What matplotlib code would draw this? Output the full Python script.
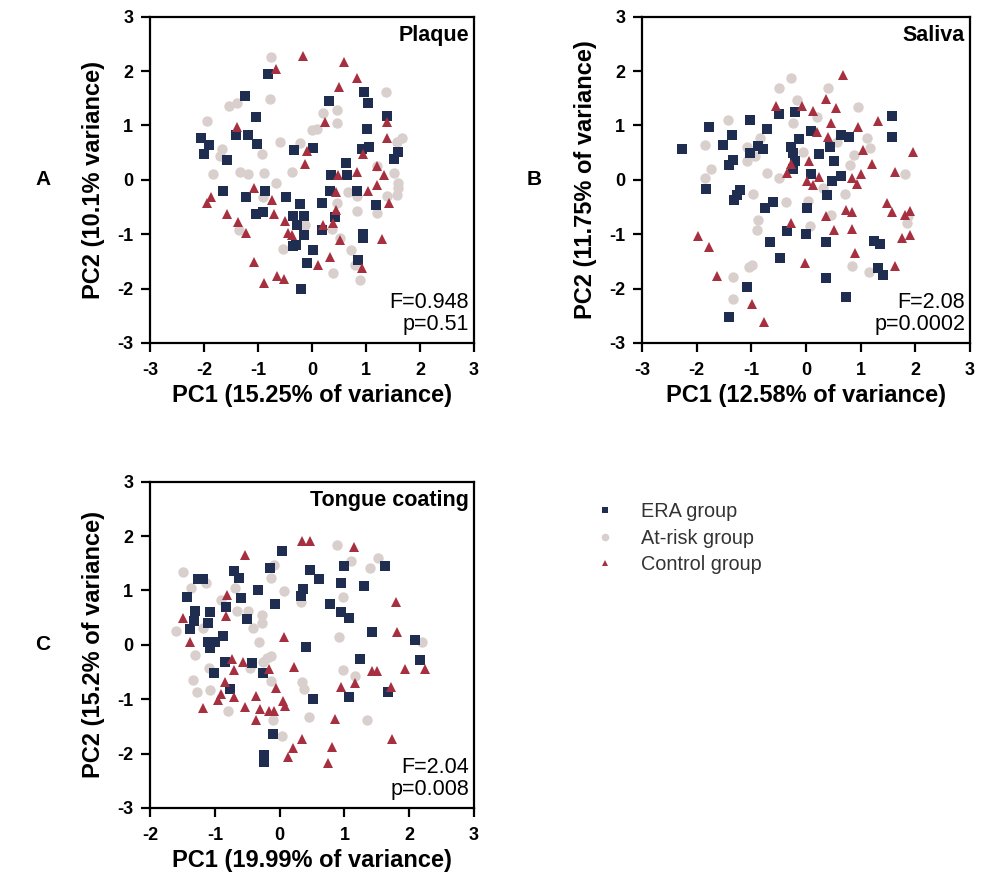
import matplotlib
matplotlib.use("Agg")
import matplotlib.pyplot as plt
from matplotlib.lines import Line2D

plt.rcParams['font.family'] = ['Liberation Sans', 'DejaVu Sans']
plt.rcParams['axes.unicode_minus'] = False

# ---- data (PC1, PC2) ----
plaque_era = [(-0.81, 1.95), (-1.24, 1.55), (0.96, 1.61), (1.03, 1.41), (0.32, 1.44), (-1.04, 1.15),
              (1.38, 1.18), (1.01, 0.94), (-2.06, 0.77), (-1.90, 0.64), (-2.01, 0.48), (-1.41, 0.82),
              (-1.18, 0.82), (-1.02, 0.66), (-1.57, 0.37), (-0.33, 0.55), (0.01, 0.58), (0.92, 0.57),
              (1.06, 0.60), (1.60, 0.52), (1.51, 0.38), (0.63, 0.31), (0.35, 0.08), (0.64, 0.09),
              (-1.64, -0.21), (-1.22, -0.31), (-0.88, -0.20), (-0.49, -0.31), (-0.22, -0.45), (0.18, -0.43),
              (0.33, -0.20), (0.83, -0.20), (1.19, -0.46), (-1.04, -0.63), (-0.90, -0.60), (-0.36, -0.66),
              (-0.15, -0.66), (0.43, -0.69), (-0.28, -0.83), (0.18, -0.93), (-0.15, -1.01), (0.94, -0.99),
              (0.95, -1.07), (-0.36, -1.22), (-0.30, -1.20), (0.02, -1.29), (-0.10, -1.53), (0.85, -1.47),
              (-0.20, -2.01)]
plaque_risk = [(-0.76, 2.26), (1.36, 1.61), (-0.77, 1.49), (-1.53, 1.35), (-1.39, 1.41), (-1.95, 1.09),
               (0.46, 1.29), (0.21, 1.23), (0.46, 1.04), (0.00, 0.92), (0.09, 0.93), (-0.59, 0.69),
               (-0.22, 0.68), (-1.67, 0.56), (-1.70, 0.43), (-0.93, 0.48), (1.66, 0.77), (1.57, 0.70),
               (1.20, 0.25), (1.51, 0.12), (-1.83, 0.11), (-1.33, 0.14), (-1.18, 0.11), (-0.89, 0.12),
               (-0.38, 0.14), (1.60, -0.05), (1.60, -0.15), (1.57, -0.28), (1.38, -0.29), (-0.67, -0.06),
               (0.67, -0.23), (0.84, -0.29), (0.46, -0.43), (0.84, -0.58), (1.21, -0.61), (-1.35, -0.92),
               (-0.13, -0.83), (0.36, -0.91), (0.52, -1.07), (-0.54, -1.28), (0.72, -1.29), (0.80, -1.57),
               (0.38, -1.71), (0.88, -1.84), (-0.90, -0.31)]
plaque_ctrl = [(-0.17, 2.27), (0.60, 2.17), (0.84, 1.88), (-0.67, 2.03), (0.49, 1.70), (-1.39, 0.98),
               (0.24, 1.07), (1.38, 1.07), (1.38, 0.76), (-0.10, 0.53), (0.94, 0.47), (-0.14, 0.29),
               (0.83, 0.15), (1.20, 0.25), (1.34, 0.08), (0.48, 0.09), (-1.07, -0.15), (-1.87, -0.31),
               (-1.95, -0.42), (-0.75, -0.38), (0.44, -0.22), (1.04, -0.20), (1.21, -0.09), (1.43, -0.42),
               (-1.58, -0.63), (-0.70, -0.63), (-1.38, -0.78), (-1.22, -0.97), (-0.50, -0.75), (0.44, -0.55),
               (0.38, -0.80), (0.20, -0.83), (-0.44, -0.97), (-0.38, -1.01), (1.29, -1.09), (0.52, -1.10),
               (0.33, -1.42), (0.11, -1.57), (-1.07, -1.52), (0.92, -1.63), (-0.89, -1.90), (-0.65, -1.77),
               (-0.52, -1.83)]

saliva_era = [(-2.27, 0.56), (-1.77, 0.97), (-1.51, 0.64), (-1.35, 0.82), (-1.02, 1.10), (-1.02, 0.50),
              (-0.87, 0.62), (-0.78, 0.56), (-0.71, 0.93), (-1.33, 0.37), (-1.41, 0.28), (-0.49, 1.21),
              (-0.20, 1.24), (-0.13, 0.75), (-0.27, 0.60), (-0.24, 0.49), (-0.20, 0.34), (-0.24, 0.20),
              (0.09, 0.90), (0.24, 0.47), (0.44, 0.60), (0.51, 0.34), (0.64, 0.83), (0.79, 0.78),
              (1.57, 1.18), (1.57, 0.78), (0.09, 0.11), (-1.83, -0.17), (-1.21, -0.18), (-1.27, -0.28),
              (-1.32, -0.38), (-0.75, -0.52), (-0.61, -0.41), (0.01, -0.52), (0.38, -0.28), (0.47, -0.03),
              (0.64, 0.07), (-0.34, -0.94), (0.00, -0.99), (-0.65, -1.15), (0.37, -1.15), (-0.48, -1.44),
              (1.25, -1.13), (1.35, -1.18), (1.32, -1.62), (1.40, -1.75), (0.37, -1.81), (-1.07, -1.98),
              (-1.41, -2.53), (0.74, -2.16)]
saliva_risk = [(-0.28, 1.87), (-0.49, 1.69), (0.40, 1.69), (-0.17, 1.47), (0.95, 1.33), (-1.42, 1.10),
               (0.21, 1.16), (-0.24, 1.04), (-1.85, 0.64), (-1.08, 0.61), (-0.84, 0.77), (-1.08, 0.34),
               (-0.93, 0.43), (1.11, 0.77), (1.17, 0.59), (0.87, 0.45), (0.56, 0.69), (-0.06, 0.52),
               (0.80, 0.28), (-1.74, 0.20), (-0.72, 0.12), (1.81, 0.11), (-1.85, 0.03), (-0.49, 0.03),
               (-0.96, -0.26), (-0.37, -0.41), (0.04, -0.39), (0.31, -0.15), (0.71, -0.26), (-0.88, -0.74),
               (-0.90, -0.93), (0.07, -0.85), (0.45, -0.64), (-0.99, -1.56), (-1.05, -1.60), (-1.34, -1.78),
               (-1.33, -2.19), (0.85, -1.59), (1.16, -1.69), (1.87, -0.67), (1.85, -0.80)]
saliva_ctrl = [(0.68, 1.93), (0.37, 1.48), (0.55, 1.32), (-0.55, 1.36), (-0.08, 1.35), (0.12, 1.27),
               (0.45, 1.05), (0.96, 0.98), (1.32, 1.09), (0.20, 0.88), (0.40, 0.78), (1.04, 0.54),
               (1.95, 0.52), (0.05, 0.34), (1.20, 0.29), (-0.28, 0.29), (1.63, 0.15), (1.01, 0.11),
               (-0.35, 0.12), (-1.97, -1.03), (-1.77, -1.23), (-1.63, -1.76), (-0.98, -2.28), (-0.77, -2.62),
               (-0.27, -0.80), (-0.02, -1.53), (0.01, -0.03), (0.13, -0.09), (0.24, 0.06), (0.37, -0.67),
               (0.51, -0.92), (0.73, -0.55), (0.85, -0.60), (0.85, -0.91), (0.90, -1.35), (0.84, 0.03),
               (0.93, -0.07), (1.48, -0.43), (1.57, -0.60), (1.81, -0.64), (1.90, -0.58), (1.75, -1.07),
               (1.90, -1.02), (1.63, -1.58)]

tongue_era = [(0.04, 1.72), (-1.26, 1.21), (-1.18, 1.21), (-0.70, 1.36), (-0.62, 1.22), (-0.15, 1.42),
              (0.47, 1.38), (0.61, 1.21), (0.99, 1.45), (1.63, 1.45), (0.95, 1.13), (1.30, 1.09),
              (-1.43, 0.87), (-0.33, 1.01), (-0.60, 0.86), (0.36, 1.02), (0.33, 0.90), (-1.31, 0.62),
              (-1.32, 0.44), (-1.39, 0.29), (-1.08, 0.61), (-1.10, 0.40), (-0.83, 0.69), (-0.51, 0.47),
              (-0.07, 0.75), (0.78, 0.75), (0.94, 0.61), (1.07, 0.49), (1.43, 0.23), (2.09, 0.09),
              (-0.87, 0.17), (-1.10, 0.06), (-1.00, 0.06), (0.41, -0.04), (-1.08, -0.06), (-0.84, -0.31),
              (-0.43, -0.34), (-1.02, -0.52), (-0.25, -0.51), (1.24, -0.26), (2.16, -0.28), (-0.77, -0.81),
              (0.51, -1.00), (1.07, -0.96), (1.67, -0.86), (-0.10, -1.64), (-0.24, -2.02), (-0.24, -2.16)]
tongue_risk = [(-1.49, 1.33), (0.88, 1.83), (1.10, 1.54), (1.39, 1.41), (1.52, 1.59), (-0.08, 1.47),
               (-0.14, 1.22), (-1.37, 1.05), (-1.14, 1.13), (-0.69, 1.04), (0.06, 0.99), (0.98, 0.87),
               (-0.91, 0.83), (-0.66, 0.62), (-0.49, 0.62), (-0.28, 0.55), (-0.28, 0.40), (-0.41, 0.31),
               (-1.18, 0.31), (-1.60, 0.26), (0.33, 0.79), (0.92, 0.15), (-0.32, 0.06), (2.20, 0.06),
               (-1.31, -0.18), (-1.09, -0.43), (-1.33, -0.64), (-1.27, -0.86), (-1.08, -0.83), (-0.79, -1.22),
               (-0.46, -0.43), (-0.20, -0.24), (-0.14, -0.21), (-0.26, -0.32), (-0.13, -0.66), (-0.11, -1.38),
               (0.03, -1.67), (0.35, -0.69), (0.37, -0.81), (0.45, -1.32), (0.97, -0.46), (1.16, -0.58),
               (1.34, -1.39)]
tongue_ctrl = [(0.34, 1.91), (0.47, 1.91), (1.15, 1.79), (-0.53, 1.65), (-0.81, 0.92), (-1.49, 0.50),
               (-0.83, 0.53), (1.79, 0.78), (1.81, 0.23), (0.06, 0.15), (-1.39, 0.06), (-0.74, -0.26),
               (-0.70, -0.46), (-0.56, -0.32), (-0.16, -0.44), (0.22, -0.41), (-0.84, -0.69), (-0.91, -0.90),
               (-0.95, -1.01), (-0.70, -0.96), (-1.18, -1.17), (-0.54, -1.15), (-0.37, -0.94), (-0.31, -1.18),
               (-0.36, -1.39), (-0.16, -1.22), (-0.08, -1.22), (-0.06, -0.80), (0.05, -1.03), (0.09, -1.12),
               (0.34, -1.74), (0.20, -1.90), (0.13, -2.07), (0.74, -2.17), (0.81, -1.87), (0.86, -1.36),
               (0.95, -0.78), (1.17, -0.70), (1.42, -0.48), (1.50, -0.48), (1.94, -0.44), (2.25, -0.45),
               (1.72, -0.77), (1.74, -1.74)]

groups = ["ERA group", "At-risk group", "Control group"]
colors = {"ERA group": "#1e2d50", "At-risk group": "#d9cfcd", "Control group": "#a6303f"}
markers = {"ERA group": "s", "At-risk group": "o", "Control group": "^"}

fig = plt.figure(figsize=(9.91, 8.81), dpi=100)


def panel(rect, era, risk, ctrl, title, xlabel, ylabel, stat, letter, xlim):
    ax = fig.add_axes(rect)
    for name, pts in (("At-risk group", risk), ("ERA group", era), ("Control group", ctrl)):
        xs = [p[0] for p in pts]
        ys = [p[1] for p in pts]
        ms = 7.5 if name == "At-risk group" else 6.5
        ax.plot(xs, ys, linestyle="none", marker=markers[name], color=colors[name],
                markersize=ms, markeredgewidth=0)
    ax.set_xlim(*xlim)
    ax.set_ylim(-3, 3)
    ax.set_xticks(range(xlim[0], xlim[1] + 1))
    ax.set_yticks(range(-3, 4))
    for s in ax.spines.values():
        s.set_linewidth(1.6)
    ax.tick_params(direction="out", length=6.5, width=1.6, labelsize=13)
    ax.tick_params(axis="x", pad=7)
    ax.tick_params(axis="y", pad=5.5)
    for lab in ax.get_xticklabels() + ax.get_yticklabels():
        lab.set_fontweight("bold")
    ax.set_xlabel(xlabel, fontsize=17, fontweight="bold", labelpad=4)
    ax.set_ylabel(ylabel, fontsize=17, fontweight="bold", labelpad=9)
    ax.text(0.985, 0.975, title, transform=ax.transAxes, ha="right", va="top",
            fontsize=15.5, fontweight="bold")
    ax.text(0.985, 0.025, stat, transform=ax.transAxes, ha="right", va="bottom",
            fontsize=15.5, linespacing=1.05)
    ax.text(-0.33, 0.5, letter, transform=ax.transAxes, ha="center", va="center",
            fontsize=15, fontweight="bold")
    return ax


panel([0.1514, 0.6107, 0.327, 0.3704], plaque_era, plaque_risk, plaque_ctrl, "Plaque",
      "PC1 (15.25% of variance)", "PC2 (10.1% variance)", "F=0.948\np=0.51", "A", (-3, 3))
panel([0.6478, 0.6107, 0.331, 0.3704], saliva_era, saliva_risk, saliva_ctrl, "Saliva",
      "PC1 (12.58% of variance)", "PC2 (11.75% of variance)", "F=2.08\np=0.0002", "B", (-3, 3))
panel([0.1514, 0.0829, 0.327, 0.3704], tongue_era, tongue_risk, tongue_ctrl, "Tongue coating",
      "PC1 (19.99% of variance)", "PC2 (15.2% of variance)", "F=2.04\np=0.008", "C", (-2, 3))

handles = [Line2D([], [], linestyle="none", marker=markers[g], color=colors[g],
                  markersize=5.5 if g == "At-risk group" else 5, markeredgewidth=0) for g in groups]
leg = fig.legend(handles, groups, loc="upper left", bbox_to_anchor=(0.5943, 0.4387), frameon=False,
                 fontsize=14.3, handletextpad=1.41, labelspacing=0.36, handlelength=0.8,
                 borderaxespad=0)
for t in leg.get_texts():
    t.set_color("#333333")

fig.savefig("out.png", dpi=100)
